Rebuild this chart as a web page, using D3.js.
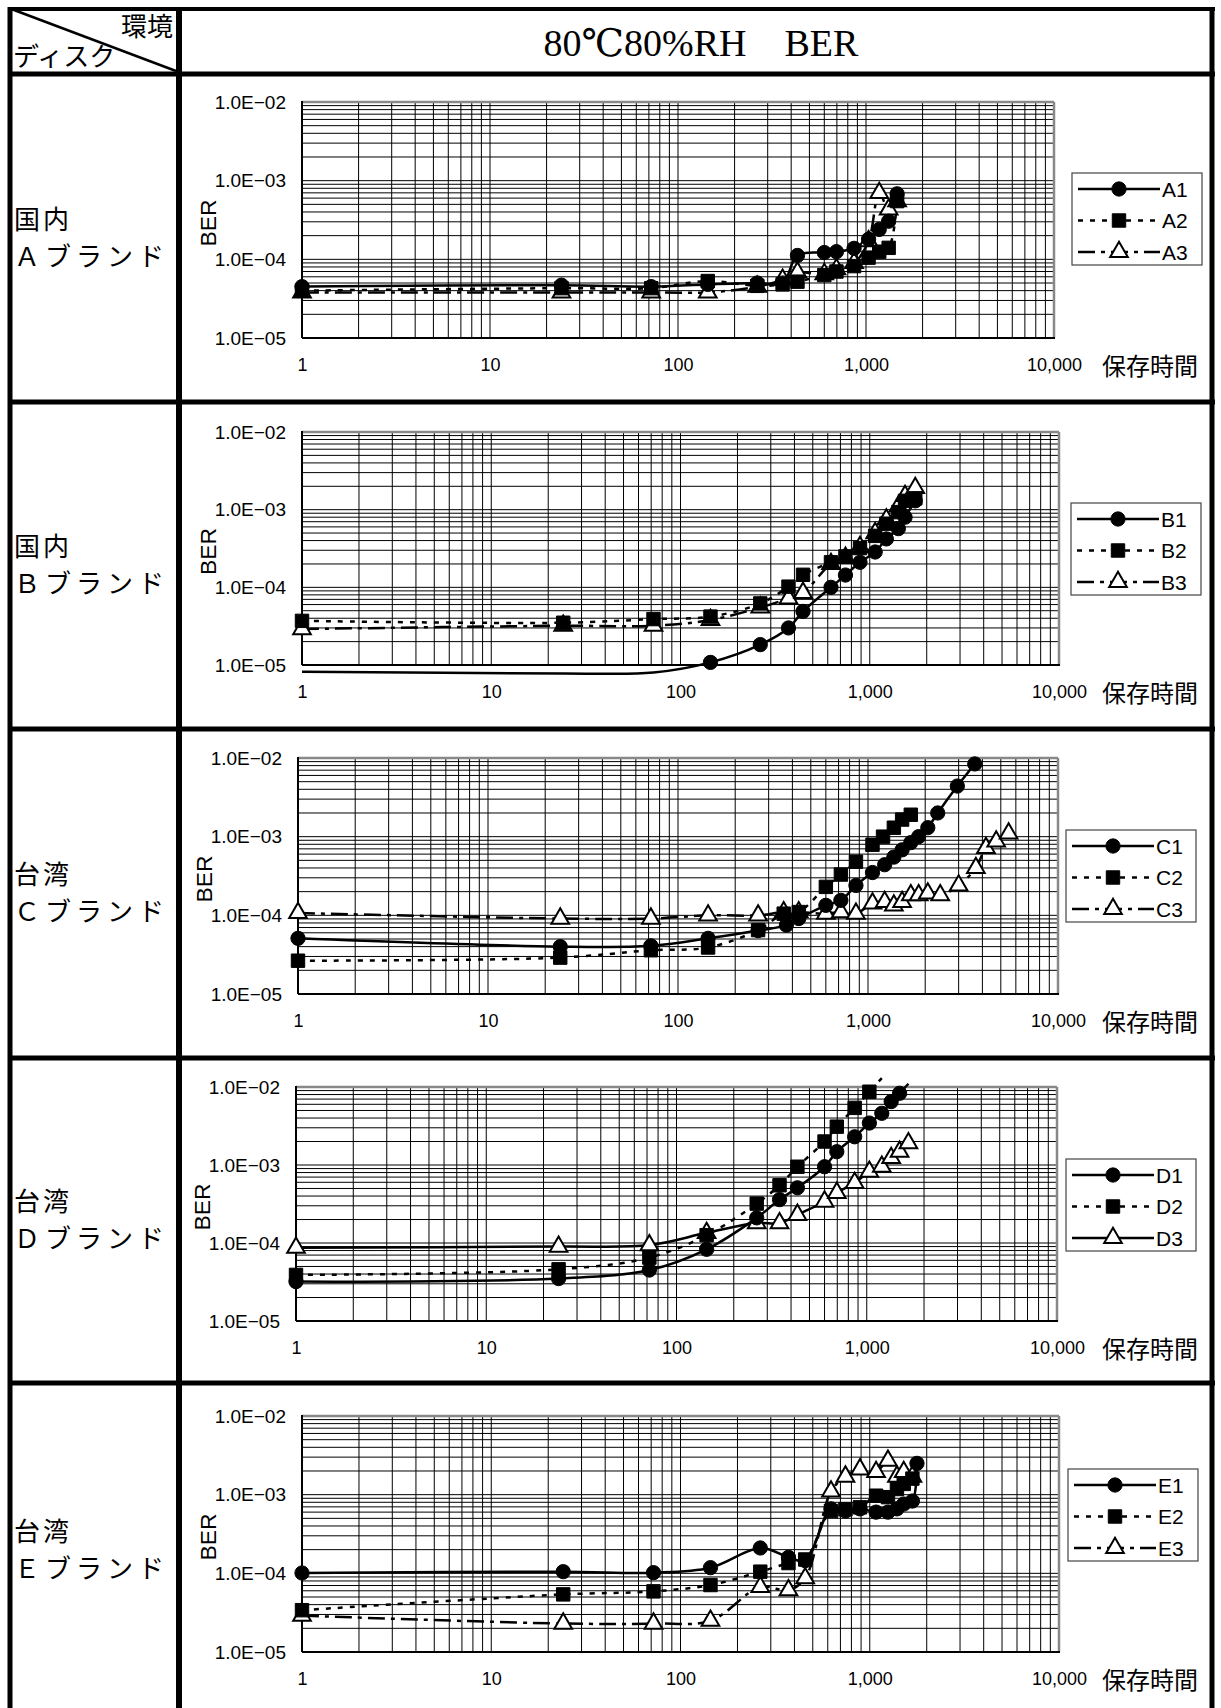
<!DOCTYPE html>
<html>
<head>
<meta charset="utf-8">
<script src="https://cdn.jsdelivr.net/npm/d3@7"></script>
<style>
  body { margin: 0; background: #fff; }
  svg { display: block; }
</style>
</head>
<body>
<svg id="page" width="1221" height="1708"></svg>
<script>
// ---- data (hours of storage, BER) ----
const hoursA = [1, 24, 72, 144, 264, 360, 432, 600, 696, 864, 1032, 1176, 1320, 1464];
const berA1 = [4.5e-5, 4.7e-5, 4.5e-5, 4.8e-5, 5.0e-5, 5.0e-5, 1.12e-4, 1.22e-4, 1.25e-4, 1.38e-4, 1.8e-4, 2.4e-4, 3.05e-4, 6.8e-4];
const berA2 = [4.0e-5, 4.3e-5, 4.3e-5, 5.3e-5, 4.6e-5, 4.8e-5, 5.2e-5, 6.3e-5, 7.0e-5, 8.2e-5, 1.05e-4, 1.25e-4, 1.4e-4, 5.5e-4];
const berA3 = [3.8e-5, 3.8e-5, 3.8e-5, 3.8e-5, 4.5e-5, 5.5e-5, 6.8e-5, 6.5e-5, 7.5e-5, 9.0e-5, 1.7e-4, 7.0e-4, 4.3e-4, 5.5e-4];

const hoursB = [1, 24, 72, 144, 264, 372, 444, 624, 744, 888, 1068, 1224, 1416, 1536, 1740];
const berB1 = [8.2e-6, 7.8e-6, 8.0e-6, 1.08e-5, 1.83e-5, 3.0e-5, 4.9e-5, 1.0e-4, 1.44e-4, 2.1e-4, 2.85e-4, 4.2e-4, 5.7e-4, 8.0e-4, 1.3e-3];
const berB2 = [3.7e-5, 3.5e-5, 3.9e-5, 4.2e-5, 6.2e-5, 1.02e-4, 1.45e-4, 2.1e-4, 2.5e-4, 3.2e-4, 4.6e-4, 6.6e-4, 9.3e-4, 1.3e-3, 1.4e-3];
const berB3 = [2.9e-5, 3.2e-5, 3.2e-5, 3.8e-5, 5.5e-5, 7.2e-5, 8.5e-5, 2.0e-4, 2.4e-4, 3.3e-4, 5.0e-4, 7.5e-4, 1.1e-3, 1.5e-3, 1.9e-3];

const hoursC1 = [1, 24, 72, 144, 264, 372, 432, 600, 720, 864, 1056, 1224, 1368, 1512, 1680, 1848, 2064, 2328, 2952, 3648];
const berC1 = [5.1e-5, 4.0e-5, 4.1e-5, 5.1e-5, 6.4e-5, 7.5e-5, 9.1e-5, 1.34e-4, 1.55e-4, 2.4e-4, 3.5e-4, 4.4e-4, 5.5e-4, 6.8e-4, 8.4e-4, 1.0e-3, 1.3e-3, 2.0e-3, 4.4e-3, 8.4e-3];
const hoursC2 = [1, 24, 72, 144, 264, 360, 432, 600, 720, 864, 1056, 1200, 1368, 1512, 1680];
const berC2 = [2.65e-5, 2.9e-5, 3.6e-5, 3.9e-5, 6.5e-5, 1.05e-4, 1.1e-4, 2.3e-4, 3.3e-4, 4.8e-4, 7.9e-4, 1.0e-3, 1.3e-3, 1.65e-3, 1.9e-3];
const hoursC3 = [1, 24, 72, 144, 264, 360, 432, 600, 720, 864, 1056, 1224, 1368, 1512, 1680, 1848, 2064, 2400, 3000, 3696, 4176, 4728, 5496];
const berC3 = [1.07e-4, 9.1e-5, 9.1e-5, 1.0e-4, 1.0e-4, 1.1e-4, 1.1e-4, 1.05e-4, 1.1e-4, 1.05e-4, 1.42e-4, 1.48e-4, 1.34e-4, 1.48e-4, 1.8e-4, 1.8e-4, 1.9e-4, 1.8e-4, 2.4e-4, 4.0e-4, 7.2e-4, 8.7e-4, 1.1e-3];

const hoursD = [1, 24, 72, 144, 264, 348, 432, 600, 696, 864, 1032, 1200, 1344, 1488, 1656];
const berD1 = [3.2e-5, 3.5e-5, 4.5e-5, 8.3e-5, 2.1e-4, 3.6e-4, 5.1e-4, 9.5e-4, 1.48e-3, 2.3e-3, 3.45e-3, 4.6e-3, 6.5e-3, 8.3e-3, 1.1e-2];
const hoursD2 = [1, 24, 72, 144, 264, 348, 432, 600, 696, 864, 1032, 1200];
const berD2 = [3.9e-5, 4.6e-5, 6.5e-5, 1.26e-4, 3.2e-4, 5.5e-4, 9.5e-4, 2.0e-3, 3.1e-3, 5.4e-3, 8.7e-3, 1.3e-2];
const berD3 = [8.7e-5, 9.0e-5, 9.4e-5, 1.35e-4, 1.8e-4, 1.8e-4, 2.3e-4, 3.4e-4, 4.4e-4, 5.9e-4, 8.2e-4, 9.5e-4, 1.23e-3, 1.48e-3, 1.9e-3];

const hoursE = [1, 24, 72, 144, 264, 372, 456, 624, 744, 888, 1080, 1248, 1392, 1512, 1680];
const hoursE1 = [1, 24, 72, 144, 264, 372, 456, 624, 744, 888, 1080, 1248, 1392, 1512, 1680, 1776];
const berE1 = [1.01e-4, 1.05e-4, 1.02e-4, 1.18e-4, 2.1e-4, 1.6e-4, 1.45e-4, 6.6e-4, 6.2e-4, 6.6e-4, 6.0e-4, 6.0e-4, 6.6e-4, 7.6e-4, 8.3e-4, 2.5e-3];
const berE2 = [3.4e-5, 5.4e-5, 5.9e-5, 7.1e-5, 1.05e-4, 1.35e-4, 1.5e-4, 6.2e-4, 6.5e-4, 6.9e-4, 9.7e-4, 9.3e-4, 1.18e-3, 1.37e-3, 1.6e-3];
const berE3 = [2.9e-5, 2.3e-5, 2.3e-5, 2.5e-5, 6.7e-5, 6.1e-5, 8.7e-5, 1.1e-3, 1.7e-3, 2.1e-3, 1.95e-3, 2.7e-3, 1.7e-3, 1.95e-3, 1.7e-3];

const yTickValues = [1e-5, 1e-4, 1e-3, 1e-2];
const yTickLabels = ["1.0E\u221205", "1.0E\u221204", "1.0E\u221203", "1.0E\u221202"];
const xTickValues = [1, 10, 100, 1000, 10000];
const xTickLabels = ["1", "10", "100", "1,000", "10,000"];

const brandLabels = [["国内", "Ａブランド"], ["国内", "Ｂブランド"], ["台湾", "Ｃブランド"], ["台湾", "Ｄブランド"], ["台湾", "Ｅブランド"]];

const charts = [
  { names: ["A1", "A2", "A3"], styles: ["solid", "dot", "dashdot"],
    series: [[hoursA, berA1], [hoursA, berA2], [hoursA, berA3]] },
  { names: ["B1", "B2", "B3"], styles: ["solid", "dot", "dashdot"],
    series: [[hoursB, berB1], [hoursB, berB2], [hoursB, berB3]] },
  { names: ["C1", "C2", "C3"], styles: ["solid", "dot", "dashdot"],
    series: [[hoursC1, berC1], [hoursC2, berC2], [hoursC3, berC3]] },
  { names: ["D1", "D2", "D3"], styles: ["solid", "dot", "solid"],
    series: [[hoursD, berD1], [hoursD2, berD2], [hoursD, berD3]] },
  { names: ["E1", "E2", "E3"], styles: ["solid", "dot", "dashdot"],
    series: [[hoursE1, berE1], [hoursE, berE2], [hoursE, berE3]] }
];

// ---- layout ----
const rowLines = [74, 402, 729, 1058, 1383];
const rowCenters = [238, 565, 893, 1220, 1550];
const boxes = [
  { left: 302, right: 1054, top: 102, bottom: 338, legendX: 1072, legendY: 173 },
  { left: 302, right: 1059, top: 432, bottom: 665, legendX: 1071, legendY: 503 },
  { left: 298, right: 1058, top: 758, bottom: 994, legendX: 1066, legendY: 830 },
  { left: 296, right: 1057, top: 1087, bottom: 1321, legendX: 1066, legendY: 1159 },
  { left: 302, right: 1059, top: 1416, bottom: 1652, legendX: 1068, legendY: 1469 }
];
const dash = { solid: null, dot: "5,7", dashdot: "17,6,4,6" };
const shapes = [d3.symbolCircle, d3.symbolSquare, d3.symbolTriangle];
const shapeSize = [160, 180, 135];
const sansJP = "'Noto Sans CJK JP', 'Noto Sans', sans-serif";
const sansLatin = "'Liberation Sans', Arial, sans-serif";

const svg = d3.select("#page");

// ---- table frame ----
const frame = svg.append("g").attr("stroke", "#000");
frame.append("line").attr("x1", 8).attr("x2", 1215).attr("y1", 9).attr("y2", 9).attr("stroke-width", 4);
frame.append("line").attr("x1", 10).attr("x2", 10).attr("y1", 7).attr("y2", 1708).attr("stroke-width", 5);
frame.append("line").attr("x1", 1212).attr("x2", 1212).attr("y1", 7).attr("y2", 1708).attr("stroke-width", 5);
frame.append("line").attr("x1", 179).attr("x2", 179).attr("y1", 7).attr("y2", 1708).attr("stroke-width", 6);
rowLines.forEach(yy => {
  frame.append("line").attr("x1", 8).attr("x2", 1215).attr("y1", yy).attr("y2", yy).attr("stroke-width", 5);
});
frame.append("line").attr("x1", 14).attr("y1", 10).attr("x2", 176).attr("y2", 71).attr("stroke-width", 2.5);

svg.append("text").attr("x", 173).attr("y", 36).attr("text-anchor", "end")
  .attr("font-family", sansJP).attr("font-size", 26).text("環境");
svg.append("text").attr("x", 13).attr("y", 66)
  .attr("font-family", sansJP).attr("font-size", 26).text("ディスク");
svg.append("text").attr("x", 701).attr("y", 56).attr("text-anchor", "middle")
  .attr("font-family", "'Liberation Serif', 'DejaVu Serif', serif").attr("font-size", 38)
  .text("80℃80%RH　BER");

brandLabels.forEach((lab, i) => {
  svg.append("text").attr("x", 14).attr("y", rowCenters[i] - 9)
    .attr("font-family", sansJP).attr("font-size", 26).attr("letter-spacing", 3).text(lab[0]);
  svg.append("text").attr("x", 14).attr("y", rowCenters[i] + 28)
    .attr("font-family", sansJP).attr("font-size", 26).attr("letter-spacing", 5).text(lab[1]);
});

// ---- charts ----
function drawChart(cfg, box) {
  const x = d3.scaleLog().domain([1, 10000]).range([box.left, box.right]);
  const y = d3.scaleLog().domain([1e-5, 1e-2]).range([box.bottom, box.top]);
  const g = svg.append("g");

  g.append("g").selectAll("line").data(x.ticks()).join("line")
    .attr("x1", d => x(d)).attr("x2", d => x(d))
    .attr("y1", box.top).attr("y2", box.bottom)
    .attr("stroke", "#000").attr("stroke-width", 1);
  g.append("g").selectAll("line").data(y.ticks()).join("line")
    .attr("x1", box.left).attr("x2", box.right)
    .attr("y1", d => y(d)).attr("y2", d => y(d))
    .attr("stroke", "#000").attr("stroke-width", 1);

  // plot border: gray top/right, black axes
  g.append("line").attr("x1", box.left).attr("x2", box.right).attr("y1", box.top).attr("y2", box.top)
    .attr("stroke", "#888").attr("stroke-width", 2.5);
  g.append("line").attr("x1", box.right).attr("x2", box.right).attr("y1", box.top).attr("y2", box.bottom)
    .attr("stroke", "#888").attr("stroke-width", 2.5);
  g.append("line").attr("x1", box.left).attr("x2", box.right + 1).attr("y1", box.bottom).attr("y2", box.bottom)
    .attr("stroke", "#000").attr("stroke-width", 2);
  g.append("line").attr("x1", box.left).attr("x2", box.left).attr("y1", box.top - 1).attr("y2", box.bottom)
    .attr("stroke", "#000").attr("stroke-width", 2);

  const yAxis = g.append("g").attr("transform", `translate(${box.left},0)`)
    .call(d3.axisLeft(y).tickValues(yTickValues).tickFormat((d, i) => yTickLabels[i]).tickSize(0).tickPadding(16));
  yAxis.select(".domain").remove();
  yAxis.attr("font-family", sansLatin).attr("font-size", 19);

  const xAxis = g.append("g").attr("transform", `translate(0,${box.bottom})`)
    .call(d3.axisBottom(x).tickValues(xTickValues).tickFormat((d, i) => xTickLabels[i]).tickSize(0).tickPadding(20));
  xAxis.select(".domain").remove();
  xAxis.attr("font-family", sansLatin).attr("font-size", 18);

  g.append("text").attr("x", 1102).attr("y", box.bottom + 37)
    .attr("font-family", sansJP).attr("font-size", 24).text("保存時間");
  g.append("text")
    .attr("transform", `translate(${box.left - 86},${(box.top + box.bottom) / 2 + 3}) rotate(-90)`)
    .attr("text-anchor", "middle").attr("font-family", sansLatin).attr("font-size", 22)
    .attr("textLength", 47).attr("lengthAdjust", "spacingAndGlyphs").text("BER");

  const line = d3.line().x(d => x(d[0])).y(d => y(d[1])).curve(d3.curveCatmullRom.alpha(0.5));
  cfg.series.forEach((s, i) => {
    g.append("path").attr("d", line(d3.zip(s[0], s[1])))
      .attr("fill", "none").attr("stroke", "#000").attr("stroke-width", 2.5)
      .attr("stroke-dasharray", dash[cfg.styles[i]]);
  });

  [2, 1, 0].forEach(i => {
    const s = cfg.series[i];
    const pts = d3.zip(s[0], s[1]).filter(p => p[1] >= 0.999e-5 && p[1] <= 1.001e-2);
    g.append("g").selectAll("path").data(pts).join("path")
      .attr("transform", p => `translate(${x(p[0])},${y(p[1])})`)
      .attr("d", d3.symbol().type(shapes[i]).size(shapeSize[i]))
      .attr("fill", i === 2 ? "#fff" : "#000")
      .attr("stroke", "#000").attr("stroke-width", i === 2 ? 2 : 1);
  });

  // legend
  const lg = g.append("g").attr("transform", `translate(${box.legendX},${box.legendY})`);
  lg.append("rect").attr("width", 130).attr("height", 92)
    .attr("fill", "#fff").attr("stroke", "#444").attr("stroke-width", 1.2);
  cfg.names.forEach((name, i) => {
    const ly = 16 + i * 31.5;
    lg.append("line").attr("x1", 6).attr("x2", 88).attr("y1", ly).attr("y2", ly)
      .attr("stroke", "#000").attr("stroke-width", 2.5).attr("stroke-dasharray", dash[cfg.styles[i]]);
    lg.append("path").attr("transform", `translate(47,${ly})`)
      .attr("d", d3.symbol().type(shapes[i]).size(shapeSize[i]))
      .attr("fill", i === 2 ? "#fff" : "#000")
      .attr("stroke", "#000").attr("stroke-width", i === 2 ? 2 : 1);
    lg.append("text").attr("x", 90).attr("y", ly).attr("dy", "0.36em")
      .attr("font-family", sansLatin).attr("font-size", 21).text(name);
  });
}

charts.forEach((c, i) => drawChart(c, boxes[i]));
</script>
</body>
</html>
